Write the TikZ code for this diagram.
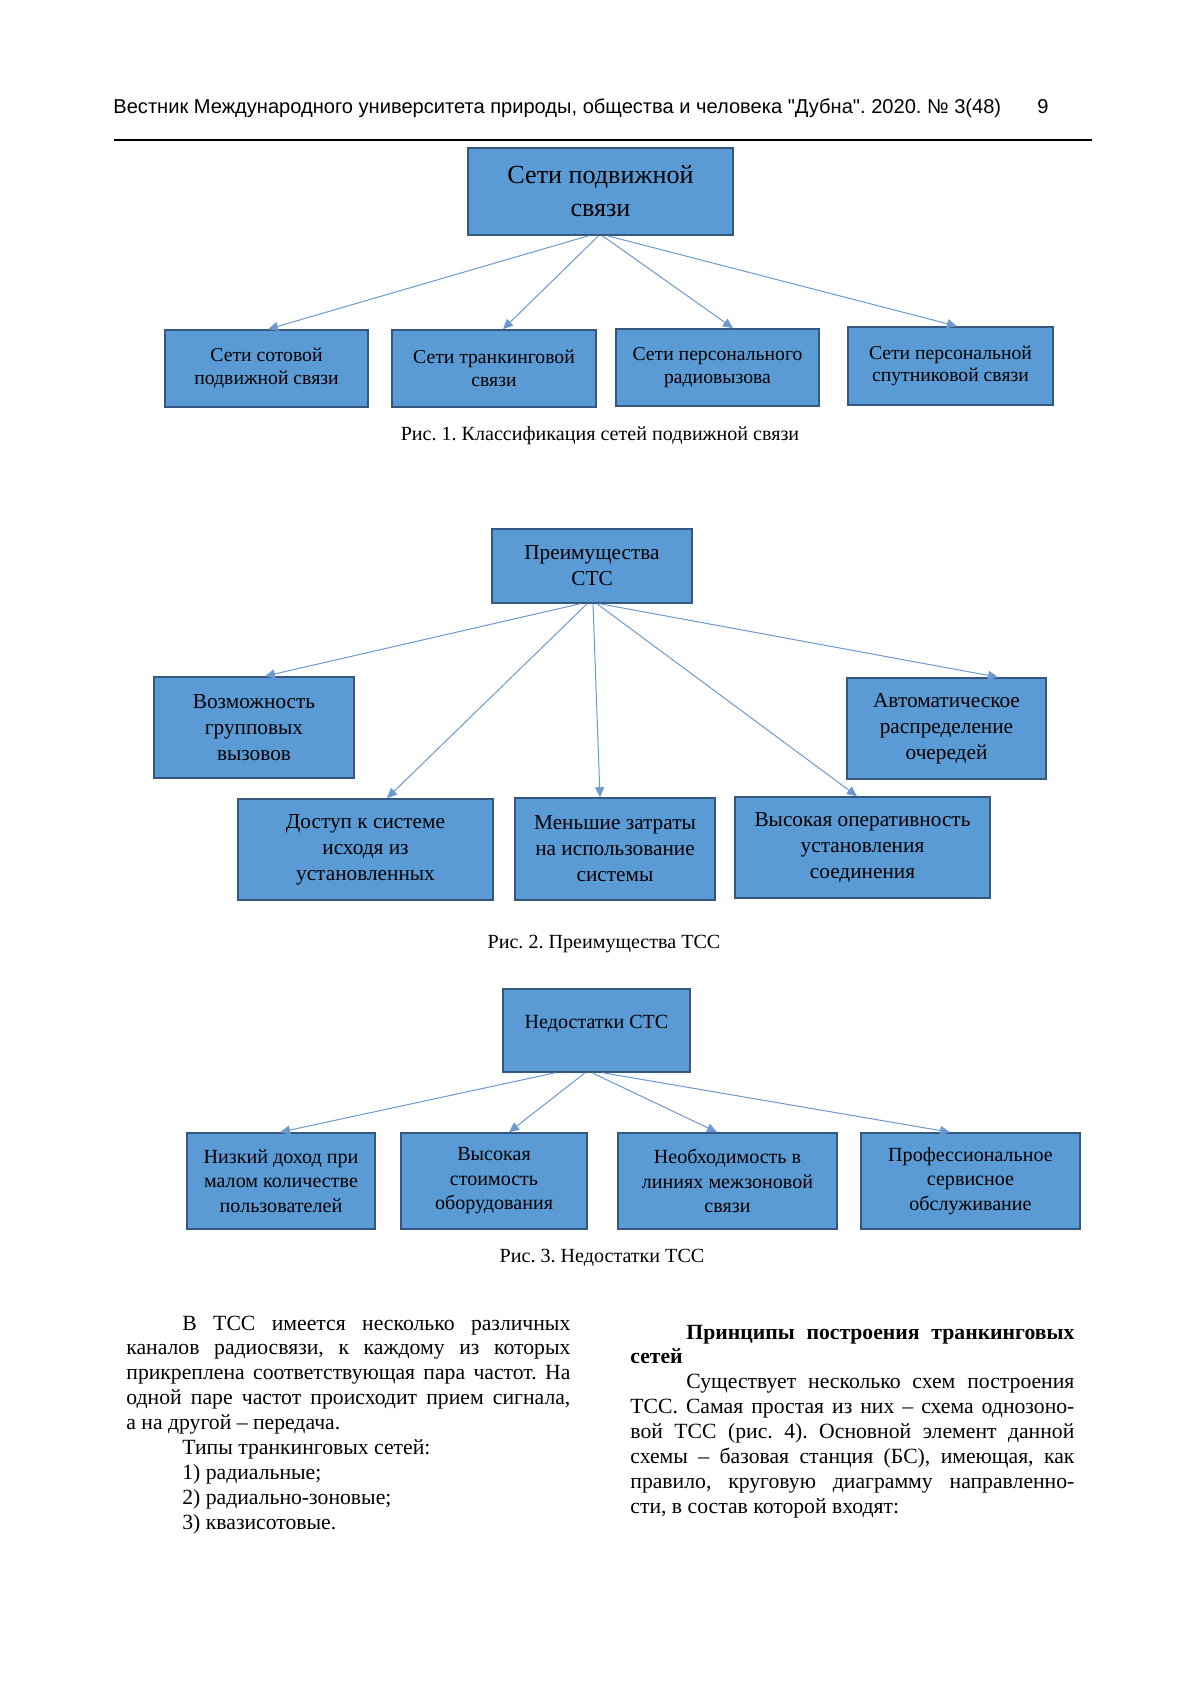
\documentclass[tikz,border=0pt]{standalone}
\usepackage{fontspec}
\setmainfont{Liberation Serif}
\newfontfamily\headfont{Liberation Sans}
\usetikzlibrary{arrows.meta,calc}
\frenchspacing
\definecolor{boxblue}{RGB}{91,155,213}
\definecolor{boxedge}{RGB}{52,88,128}
\definecolor{linkblue}{RGB}{108,154,204}
\tikzstyle{bluebox}=[rectangle,draw=boxedge,fill=boxblue,line width=0.8pt,
                     align=center,inner sep=0pt]
\tikzstyle{netbox}=[bluebox,font=\fontsize{9.8}{11.3}\selectfont]
\tikzstyle{probox}=[bluebox,font=\fontsize{10.6}{13}\selectfont]
\tikzstyle{conbox}=[bluebox,font=\fontsize{10}{12.2}\selectfont]
\tikzstyle{arrowlink}=[draw=linkblue,line width=0.5pt,
                       -{Triangle[length=5pt,width=4.5pt]}]
\tikzstyle{figcap}=[inner sep=0pt,font=\fontsize{10}{12}\selectfont]
\tikzstyle{headline}=[anchor=base west,inner sep=0pt,
                      font=\headfont\fontsize{10}{12}\selectfont]
\tikzstyle{textcol}=[anchor=base west,inner sep=0pt,text width=77.7mm,
                     align=justify,font=\fontsize{10.8}{12.4}\selectfont]

\begin{document}
\begin{tikzpicture}[x=0.175mm,y=-0.175mm]
  \newcommand{\pxu}{0.175mm}
  \newcommand{\ind}{\hspace*{9.8mm}}
  \fill[white] (0,0) rectangle (1200,1697);
  \useasboundingbox (0,0) rectangle (1200,1697);

  \node (head) at (113,114) [headline]{Вестник Международного университета природы, общества и человека "Дубна". 2020. № 3(48)};
  \node (page) at (1037,114) [headline]{9};
  \draw[line width=0.5pt] (114,140) -- (1092,140);

  \node (net) at (600.5,191.5) [bluebox,minimum width=265*\pxu,minimum height=87*\pxu,
        font=\fontsize{13}{16.4}\selectfont]{Сети подвижной\\связи};
  \node (cell) at (266.5,368.5) [netbox,minimum width=203*\pxu,minimum height=77*\pxu]{Сети сотовой\\подвижной связи};
  \node (trunk) at (494,368.5) [netbox,minimum width=204*\pxu,minimum height=77*\pxu]{Сети транкинговой\\связи};
  \node (pager) at (717.5,367.5) [netbox,minimum width=203*\pxu,minimum height=77*\pxu]{Сети персонального\\радиовызова};
  \node (sat) at (950.5,366) [netbox,minimum width=205*\pxu,minimum height=78*\pxu]{Сети персональной\\спутниковой связи};
  \draw[arrowlink] ($(net.south)+(-12,0)$) -- ($(cell.north)+(1.5,0)$);
  \draw[arrowlink] ($(net.south)+(-2,0)$) -- ($(trunk.north)+(9,0)$);
  \draw[arrowlink] ($(net.south)+(2,0)$) -- ($(pager.north)+(15.5,0)$);
  \draw[arrowlink] ($(net.south)+(7,0)$) -- ($(sat.north)+(6.5,0)$);
  \node (cap1) at (600,436) [figcap]{Рис. 1. Классификация сетей подвижной связи};

  \node (pro) at (592,566) [probox,minimum width=200*\pxu,minimum height=74*\pxu]{Преимущества\\СТС};
  \node (group) at (254,727.5) [probox,minimum width=200*\pxu,minimum height=101*\pxu]{Возможность\\групповых\\вызовов};
  \node (queue) at (946.5,728.5) [probox,minimum width=199*\pxu,minimum height=101*\pxu]{Автоматическое\\распределение\\очередей};
  \node (access) at (365.5,849.5) [probox,minimum width=255*\pxu,minimum height=101*\pxu]{Доступ к системе\\исходя из\\установленных};
  \node (cost) at (615,849) [probox,minimum width=200*\pxu,minimum height=102*\pxu]{Меньшие затраты\\на использование\\системы};
  \node (speed) at (862.5,847.5) [probox,minimum width=255*\pxu,minimum height=101*\pxu]{Высокая оперативность\\установления\\соединения};
  \draw[arrowlink] ($(pro.south)+(-12,0)$) -- ($(group.north)+(11,0)$);
  \draw[arrowlink] ($(pro.south)+(-5,0)$) -- ($(access.north)+(21.5,0)$);
  \draw[arrowlink] ($(pro.south)+(1,0)$) -- ($(cost.north)+(-15,0)$);
  \draw[arrowlink] ($(pro.south)+(5,0)$) -- ($(speed.north)+(-5.5,0)$);
  \draw[arrowlink] ($(pro.south)+(8,0)$) -- ($(queue.north)+(51.5,0)$);
  \node (cap2) at (604,944) [figcap]{Рис. 2. Преимущества ТСС};

  \node (con) at (596.5,1030.5) [conbox,minimum width=187*\pxu,minimum height=83*\pxu,
        text height=7pt,text depth=8.8pt]{Недостатки СТС};
  \node (income) at (281,1181) [conbox,minimum width=188*\pxu,minimum height=96*\pxu]{Низкий доход при\\малом количестве\\пользователей};
  \node (price) at (494,1181) [conbox,minimum width=186*\pxu,minimum height=96*\pxu]{Высокая\\стоимость\\оборудования};
  \node (zone) at (727.5,1181) [conbox,minimum width=219*\pxu,minimum height=96*\pxu]{Необходимость в\\линиях межзоновой\\связи};
  \node (service) at (970.5,1181) [conbox,minimum width=219*\pxu,minimum height=96*\pxu]{Профессиональное\\сервисное\\обслуживание};
  \draw[arrowlink] ($(con.south)+(-41.5,0)$) -- ($(income.north)+(-1,0)$);
  \draw[arrowlink] ($(con.south)+(-11.5,0)$) -- ($(price.north)+(15,0)$);
  \draw[arrowlink] ($(con.south)+(-4.5,0)$) -- ($(zone.north)+(-10.5,0)$);
  \draw[arrowlink] ($(con.south)+(6.5,0)$) -- ($(service.north)+(-20.5,0)$);
  \node (cap3) at (602,1258) [figcap]{Рис. 3. Недостатки ТСС};

  \node (leftcol) at (126,1330) [textcol]{\ind В ТСС имеется несколько различных\linebreak
    каналов радиосвязи, к каждому из которых\linebreak
    прикреплена соответствующая пара частот. На\linebreak
    одной паре частот происходит прием сигнала,\linebreak
    а на другой – передача.\par
    \ind Типы транкинговых сетей:\par
    \ind 1) радиальные;\par
    \ind 2) радиально-зоновые;\par
    \ind 3) квазисотовые.\par};
  \node (rightcol) at (630,1339) [textcol]{{\bfseries\ind Принципы построения транкинговых\linebreak
    сетей}\par
    \ind Существует несколько схем построения\linebreak
    ТСС. Самая простая из них – схема однозоно-\linebreak
    вой ТСС (рис. 4). Основной элемент данной\linebreak
    схемы – базовая станция (БС), имеющая, как\linebreak
    правило, круговую диаграмму направленно-\linebreak
    сти, в состав которой входят:\par};
\end{tikzpicture}
\end{document}
